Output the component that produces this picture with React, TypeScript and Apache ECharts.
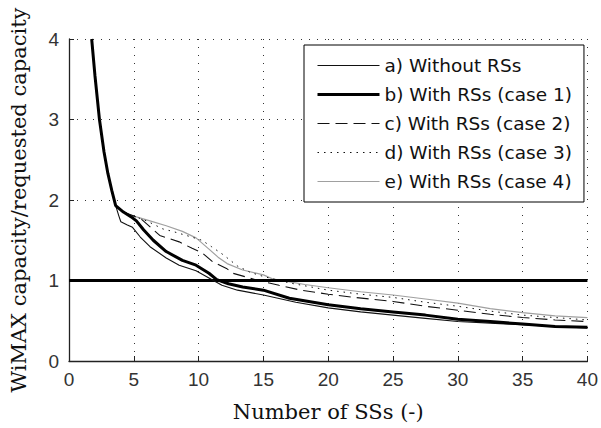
import React, { useEffect, useRef } from "react";
import * as echarts from "echarts";

// x range and ticks
const xTicks = [0, 5, 10, 15, 20, 25, 30, 35, 40];
const yTicks = [0, 1, 2, 3, 4];
const referenceLevel = 1;

const seriesNames = [
  "a) Without RSs",
  "b) With RSs (case 1)",
  "c) With RSs (case 2)",
  "d) With RSs (case 3)",
  "e) With RSs (case 4)",
];

// Values: [number of SSs, capacity ratio]
const withoutRSs: [number, number][] = [
  [1.75, 4.0], [2.0, 3.55], [2.35, 3.0], [2.7, 2.6], [3.0, 2.33], [3.3, 2.12], [3.6, 1.93],
  [3.85, 1.8], [4.0, 1.73], [4.5, 1.69], [4.9, 1.66], [5.5, 1.54], [6.25, 1.42], [7.5, 1.28],
  [8.5, 1.19], [9.8, 1.12], [10.8, 1.03], [11.8, 0.94], [13, 0.88], [15, 0.82], [17.5, 0.73],
  [20, 0.66], [22.5, 0.61], [25, 0.57], [27.5, 0.53], [30, 0.49], [32.5, 0.47], [35, 0.45],
  [37.5, 0.43], [40, 0.41],
];

const withRSsCase1: [number, number][] = [
  [1.75, 4.0], [2.0, 3.55], [2.35, 3.0], [2.7, 2.6], [3.0, 2.33], [3.3, 2.12], [3.6, 1.93],
  [4.2, 1.85], [4.8, 1.79], [5.2, 1.74], [5.75, 1.63], [6.5, 1.5], [7.5, 1.36], [8.75, 1.25],
  [9.8, 1.19], [10.8, 1.09], [11.4, 1.01], [12.3, 0.96], [13.4, 0.92], [15, 0.88], [17, 0.78],
  [20, 0.7], [22.5, 0.65], [25, 0.61], [27.5, 0.57], [30, 0.52], [32.5, 0.49], [35, 0.46],
  [37.5, 0.43], [40, 0.42],
];

const withRSsCase2: [number, number][] = [
  [1.75, 4.0], [2.0, 3.55], [2.35, 3.0], [2.7, 2.6], [3.0, 2.33], [3.3, 2.12], [3.6, 1.93],
  [4.2, 1.85], [5.0, 1.8], [5.6, 1.76], [7.0, 1.56], [7.75, 1.52], [8.5, 1.48], [9.5, 1.4],
  [10.3, 1.34], [11.1, 1.23], [12.15, 1.15], [12.65, 1.09], [14.4, 1.01], [16.2, 0.94],
  [17.9, 0.88], [20, 0.83], [22, 0.79], [25, 0.74], [27.5, 0.68], [30, 0.63], [32.5, 0.58],
  [35, 0.54], [37.5, 0.51], [40, 0.49],
];

const withRSsCase3: [number, number][] = [
  [1.75, 4.0], [2.0, 3.55], [2.35, 3.0], [2.7, 2.6], [3.0, 2.33], [3.3, 2.12], [3.6, 1.93],
  [4.2, 1.85], [5.0, 1.8], [6.0, 1.74], [7.25, 1.64], [8.0, 1.61], [9.25, 1.55], [10.25, 1.5],
  [11.0, 1.42], [11.9, 1.32], [13, 1.18], [14, 1.1], [15, 1.05], [17, 0.97], [20, 0.88],
  [22.5, 0.83], [25, 0.79], [27.5, 0.73], [30, 0.68], [32.5, 0.62], [35, 0.57], [37.5, 0.54],
  [40, 0.51],
];

const withRSsCase4: [number, number][] = [
  [1.75, 4.0], [2.0, 3.55], [2.35, 3.0], [2.7, 2.6], [3.0, 2.33], [3.3, 2.12], [3.6, 1.93],
  [4.2, 1.85], [5.0, 1.8], [6.25, 1.74], [7.5, 1.68], [8.75, 1.61], [9.8, 1.53], [10.8, 1.39],
  [11.5, 1.29], [12.2, 1.21], [13.4, 1.13], [15, 1.07], [15.7, 1.02], [18.2, 0.95], [20, 0.91],
  [22.5, 0.86], [25, 0.82], [27.5, 0.77], [30, 0.72], [32.5, 0.65], [35, 0.6], [37.5, 0.56],
  [40, 0.54],
];

const TICK_FONT = "'Liberation Sans Narrow', 'Liberation Sans', Arial, sans-serif";
const TITLE_FONT = "'DejaVu Serif', 'Liberation Serif', serif";
const LEGEND_FONT = "'DejaVu Sans', Arial, sans-serif";

export default function App() {
  const ref = useRef<HTMLDivElement>(null);

  useEffect(() => {
    document.body.style.margin = "0";
    if (!ref.current) return;
    const chart = echarts.init(ref.current, undefined, { renderer: "svg" });

    const xMin = xTicks[0];
    const xMax = xTicks[xTicks.length - 1];
    const yMin = yTicks[0];
    const yMax = yTicks[yTicks.length - 1];

    const base = {
      type: "line" as const,
      symbol: "none",
      showSymbol: false,
      clip: true,
      silent: true,
    };

    chart.setOption({
      animation: false,
      backgroundColor: "#ffffff",
      grid: { left: 62, right: 8, top: 39, bottom: 67, containLabel: false },
      xAxis: {
        type: "value",
        min: xMin,
        max: xMax,
        interval: xTicks[1] - xTicks[0],
        name: "Number of SSs (-)",
        nameLocation: "middle",
        nameGap: 40,
        nameTextStyle: { fontFamily: TITLE_FONT, fontSize: 21, color: "#111" },
        axisLine: { show: true, onZero: false, lineStyle: { color: "#222", width: 1.3 } },
        axisTick: { show: true, inside: true, length: 5, lineStyle: { color: "#222" } },
        axisLabel: { fontFamily: TICK_FONT, fontSize: 19, color: "#333", margin: 9 },
        splitLine: { show: true, lineStyle: { color: "#333", type: [1, 7], width: 1 } },
      },
      yAxis: {
        type: "value",
        min: yMin,
        max: yMax,
        interval: yTicks[1] - yTicks[0],
        name: "WiMAX capacity/requested capacity",
        nameLocation: "middle",
        nameGap: 40,
        nameTextStyle: { fontFamily: TITLE_FONT, fontSize: 21, color: "#111" },
        axisLine: { show: true, onZero: false, lineStyle: { color: "#222", width: 1.3 } },
        axisTick: { show: true, inside: true, length: 5, lineStyle: { color: "#222" } },
        axisLabel: { fontFamily: TICK_FONT, fontSize: 19, color: "#333", margin: 10 },
        splitLine: { show: true, lineStyle: { color: "#333", type: [1, 7], width: 1 } },
      },
      legend: {
        show: true,
        orient: "vertical",
        left: 304,
        top: 45,
        data: seriesNames,
        itemWidth: 62,
        itemHeight: 14,
        itemGap: 10,
        padding: [11, 12, 11, 12],
        backgroundColor: "#ffffff",
        borderColor: "#000000",
        borderWidth: 1,
        borderRadius: 0,
        selectedMode: false,
        itemStyle: { opacity: 0, borderWidth: 0 },
        lineStyle: { width: "inherit", type: "inherit", color: "inherit" },
        textStyle: { fontFamily: LEGEND_FONT, fontSize: 18.5, color: "#111" },
      },
      series: [
        {
          ...base,
          name: seriesNames[4],
          data: withRSsCase4,
          z: 2,
          lineStyle: { color: "#a0a0a0", width: 1.2, type: "solid" },
          itemStyle: { color: "#a0a0a0" },
        },
        {
          ...base,
          name: seriesNames[3],
          data: withRSsCase3,
          z: 3,
          lineStyle: { color: "#111", width: 1, type: [1.5, 5] },
          itemStyle: { color: "#111" },
        },
        {
          ...base,
          name: seriesNames[2],
          data: withRSsCase2,
          z: 4,
          lineStyle: { color: "#111", width: 1.1, type: [12, 6] },
          itemStyle: { color: "#111" },
        },
        {
          ...base,
          name: seriesNames[0],
          data: withoutRSs,
          z: 5,
          lineStyle: { color: "#111", width: 1.1, type: "solid" },
          itemStyle: { color: "#111" },
          markLine: {
            silent: true,
            symbol: "none",
            label: { show: false },
            lineStyle: { color: "#000", width: 3, type: "solid" },
            data: [{ yAxis: referenceLevel }],
          },
        },
        {
          ...base,
          name: seriesNames[1],
          data: withRSsCase1,
          z: 6,
          lineStyle: { color: "#000", width: 3, type: "solid" },
          itemStyle: { color: "#000" },
        },
      ],
    });

    return () => chart.dispose();
  }, []);

  return <div ref={ref} style={{ width: 601, height: 428 }} />;
}
